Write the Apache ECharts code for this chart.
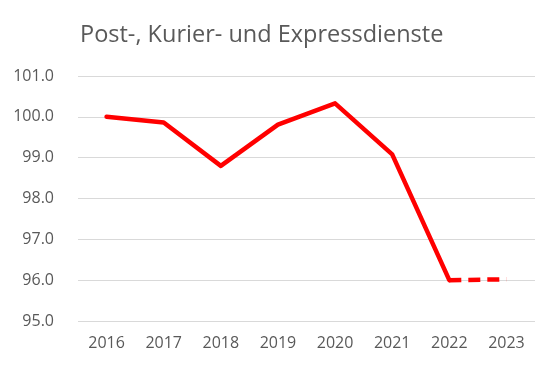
<!DOCTYPE html>
<html><head><meta charset="utf-8">
<script src="https://cdn.jsdelivr.net/npm/echarts@6/dist/echarts.min.js"></script>
<style>html,body{margin:0;padding:0;background:#fff}#c{width:558px;height:370px}</style>
</head><body><div id="c"></div>
<script>
var title = 'Post-, Kurier- und Expressdienste';
var years = ['2016','2017','2018','2019','2020','2021','2022','2023'];
var actual = [100.0, 99.86, 98.8, 99.81, 100.33, 99.08, 96.0, null];
var forecast = [null, null, null, null, null, null, 96.0, 96.02];
var ff = '"Open Sans", sans-serif';
var chart = echarts.init(document.getElementById('c'));
chart.setOption({
  animation: false,
  title: {text: title, left: 75, top: 18, textStyle: {fontFamily: ff, fontSize: 23.5, fontWeight: 'normal', color: '#595959'}},
  grid: {left: 78, right: 23, top: 76, bottom: 49},
  xAxis: {type: 'category', data: years, boundaryGap: true,
    axisLine: {show: false}, axisTick: {show: false},
    axisLabel: {fontFamily: ff, fontSize: 16, color: '#595959', margin: 14}},
  yAxis: {type: 'value', min: 95, max: 101, interval: 1,
    axisLine: {show: false}, axisTick: {show: false},
    axisLabel: {fontFamily: ff, fontSize: 16, color: '#595959', margin: 24, formatter: function(v){return v.toFixed(1);}},
    splitLine: {lineStyle: {color: '#d9d9d9', width: 1}}},
  series: [
    {type: 'line', data: actual, symbol: 'none', lineStyle: {color: '#ff0000', width: 4.5, cap: 'round', join: 'round'}, itemStyle:{color:'#ff0000'}},
    {type: 'line', data: forecast, symbol: 'none', lineStyle: {color: '#ff0000', width: 4.5, type: [12, 7]}, itemStyle:{color:'#ff0000'}}
  ]
});
</script></body></html>
